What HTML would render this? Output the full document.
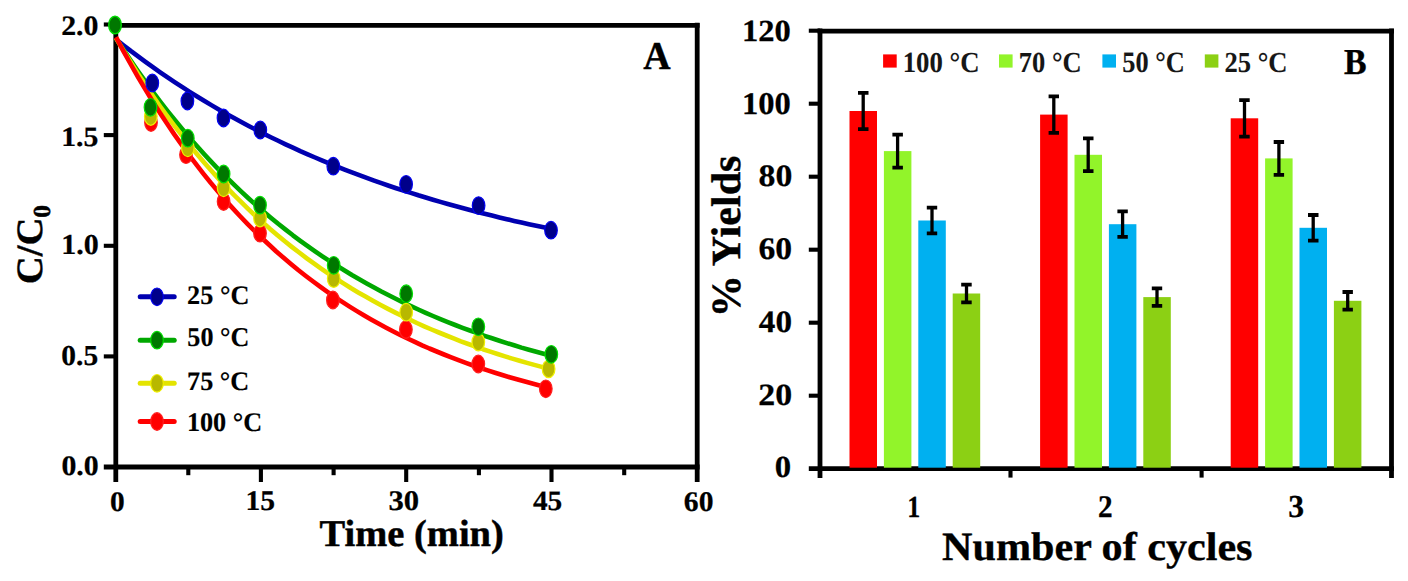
<!DOCTYPE html><html><head><meta charset="utf-8"><style>html,body{margin:0;padding:0;background:#fff;}svg{display:block;}text{font-family:"Liberation Serif",serif;font-weight:bold;fill:#000;stroke:#000;text-rendering:geometricPrecision;}</style></head><body>
<svg width="1408" height="581" viewBox="0 0 1408 581">
<rect width="1408" height="581" fill="#fff"/>
<g stroke="#000" stroke-width="4.8" fill="none" stroke-linecap="butt">
<path d="M103.8,467.0 H699.6"/>
<path d="M115.8,482 V22.7"/>
<path d="M113.4,25.4 H699.6"/>
<path d="M697.2,22.7 V482"/>
</g><g stroke="#000" stroke-width="4.1" fill="none">
<path d="M103.8,24.5 H116"/>
<path d="M103.8,135.1 H116"/>
<path d="M103.8,245.8 H116"/>
<path d="M103.8,356.4 H116"/>
<path d="M260.9,466 V482"/>
<path d="M406.2,466 V482"/>
<path d="M551.5,466 V482"/>
<path d="M188.3,466 V475.2"/>
<path d="M333.6,466 V475.2"/>
<path d="M478.9,466 V475.2"/>
<path d="M624.2,466 V475.2"/>
</g>
<path d="M116.0,39.4 L123.4,45.2 L130.7,50.9 L138.1,56.4 L145.5,61.9 L152.9,67.2 L160.2,72.3 L167.6,77.4 L175.0,82.3 L182.4,87.2 L189.7,91.9 L197.1,96.5 L204.5,101.0 L211.8,105.4 L219.2,109.7 L226.6,113.9 L234.0,118.1 L241.3,122.1 L248.7,126.0 L256.1,129.8 L263.5,133.6 L270.8,137.2 L278.2,140.8 L285.6,144.3 L292.9,147.7 L300.3,151.1 L307.7,154.3 L315.1,157.5 L322.4,160.6 L329.8,163.7 L337.2,166.7 L344.6,169.6 L351.9,172.4 L359.3,175.2 L366.7,177.9 L374.1,180.6 L381.4,183.2 L388.8,185.7 L396.2,188.2 L403.5,190.6 L410.9,192.9 L418.3,195.3 L425.7,197.5 L433.0,199.7 L440.4,201.9 L447.8,204.0 L455.2,206.0 L462.5,208.0 L469.9,210.0 L477.3,211.9 L484.6,213.8 L492.0,215.6 L499.4,217.4 L506.8,219.2 L514.1,220.9 L521.5,222.6 L528.9,224.2 L536.3,225.8 L543.6,227.3 L551.0,228.9" stroke="#0000b0" stroke-width="4.6" fill="none" stroke-linejoin="round"/>
<path d="M116.0,38.2 L123.4,49.6 L130.7,60.6 L138.1,71.3 L145.5,81.7 L152.9,91.8 L160.2,101.6 L167.6,111.1 L175.0,120.3 L182.4,129.2 L189.7,137.9 L197.1,146.3 L204.5,154.5 L211.8,162.4 L219.2,170.1 L226.6,177.5 L234.0,184.7 L241.3,191.7 L248.7,198.5 L256.1,205.1 L263.5,211.5 L270.8,217.7 L278.2,223.8 L285.6,229.6 L292.9,235.3 L300.3,240.8 L307.7,246.1 L315.1,251.3 L322.4,256.3 L329.8,261.2 L337.2,265.9 L344.6,270.5 L351.9,275.0 L359.3,279.3 L366.7,283.5 L374.1,287.5 L381.4,291.5 L388.8,295.3 L396.2,299.0 L403.5,302.6 L410.9,306.1 L418.3,309.5 L425.7,312.8 L433.0,316.0 L440.4,319.1 L447.8,322.1 L455.2,325.0 L462.5,327.8 L469.9,330.5 L477.3,333.2 L484.6,335.8 L492.0,338.3 L499.4,340.7 L506.8,343.1 L514.1,345.3 L521.5,347.6 L528.9,349.7 L536.3,351.8 L543.6,353.8 L551.0,355.8" stroke="#00a800" stroke-width="4.6" fill="none" stroke-linejoin="round"/>
<path d="M116.0,38.0 L123.3,50.3 L130.7,62.2 L138.0,73.8 L145.4,84.9 L152.7,95.8 L160.0,106.2 L167.4,116.4 L174.7,126.2 L182.1,135.7 L189.4,144.9 L196.7,153.8 L204.1,162.5 L211.4,170.8 L218.7,178.9 L226.1,186.8 L233.4,194.4 L240.8,201.7 L248.1,208.9 L255.4,215.8 L262.8,222.4 L270.1,228.9 L277.5,235.2 L284.8,241.3 L292.1,247.1 L299.5,252.8 L306.8,258.3 L314.2,263.7 L321.5,268.9 L328.8,273.9 L336.2,278.7 L343.5,283.4 L350.8,288.0 L358.2,292.4 L365.5,296.6 L372.9,300.8 L380.2,304.8 L387.5,308.6 L394.9,312.4 L402.2,316.0 L409.6,319.5 L416.9,323.0 L424.2,326.3 L431.6,329.5 L438.9,332.5 L446.3,335.5 L453.6,338.4 L460.9,341.3 L468.3,344.0 L475.6,346.6 L482.9,349.2 L490.3,351.6 L497.6,354.0 L505.0,356.4 L512.3,358.6 L519.6,360.8 L527.0,362.9 L534.3,364.9 L541.7,366.9 L549.0,368.8" stroke="#e4e400" stroke-width="4.6" fill="none" stroke-linejoin="round"/>
<path d="M116.0,37.1 L123.3,50.8 L130.6,64.0 L137.9,76.8 L145.2,89.1 L152.4,101.0 L159.7,112.5 L167.0,123.6 L174.3,134.4 L181.6,144.7 L188.9,154.8 L196.2,164.4 L203.5,173.8 L210.7,182.8 L218.0,191.5 L225.3,200.0 L232.6,208.1 L239.9,216.0 L247.2,223.6 L254.5,230.9 L261.8,238.0 L269.1,244.8 L276.3,251.5 L283.6,257.8 L290.9,264.0 L298.2,270.0 L305.5,275.7 L312.8,281.3 L320.1,286.7 L327.4,291.9 L334.6,296.9 L341.9,301.7 L349.2,306.4 L356.5,310.9 L363.8,315.3 L371.1,319.5 L378.4,323.6 L385.7,327.5 L392.9,331.3 L400.2,335.0 L407.5,338.5 L414.8,341.9 L422.1,345.3 L429.4,348.5 L436.7,351.5 L444.0,354.5 L451.3,357.4 L458.5,360.2 L465.8,362.9 L473.1,365.5 L480.4,368.0 L487.7,370.4 L495.0,372.7 L502.3,375.0 L509.6,377.2 L516.8,379.3 L524.1,381.3 L531.4,383.3 L538.7,385.2 L546.0,387.0" stroke="#ff0000" stroke-width="4.6" fill="none" stroke-linejoin="round"/>
<ellipse cx="151" cy="122.5" rx="6.3" ry="8.8" fill="#ff0000" stroke="#ff2020" stroke-width="1.2"/>
<ellipse cx="186" cy="154.7" rx="6.3" ry="8.8" fill="#ff0000" stroke="#ff2020" stroke-width="1.2"/>
<ellipse cx="223.6" cy="201.5" rx="6.3" ry="8.8" fill="#ff0000" stroke="#ff2020" stroke-width="1.2"/>
<ellipse cx="260" cy="233.2" rx="6.3" ry="8.8" fill="#ff0000" stroke="#ff2020" stroke-width="1.2"/>
<ellipse cx="332.9" cy="300" rx="6.3" ry="8.8" fill="#ff0000" stroke="#ff2020" stroke-width="1.2"/>
<ellipse cx="405.9" cy="329.5" rx="6.3" ry="8.8" fill="#ff0000" stroke="#ff2020" stroke-width="1.2"/>
<ellipse cx="478.3" cy="364" rx="6.3" ry="8.8" fill="#ff0000" stroke="#ff2020" stroke-width="1.2"/>
<ellipse cx="545.8" cy="388.8" rx="6.3" ry="8.8" fill="#ff0000" stroke="#ff2020" stroke-width="1.2"/>
<ellipse cx="150.8" cy="116.5" rx="6.3" ry="8.8" fill="#b8b800" stroke="#f0f000" stroke-width="1.2"/>
<ellipse cx="187.8" cy="147.8" rx="6.3" ry="8.8" fill="#b8b800" stroke="#f0f000" stroke-width="1.2"/>
<ellipse cx="223.6" cy="187.8" rx="6.3" ry="8.8" fill="#b8b800" stroke="#f0f000" stroke-width="1.2"/>
<ellipse cx="260" cy="218" rx="6.3" ry="8.8" fill="#b8b800" stroke="#f0f000" stroke-width="1.2"/>
<ellipse cx="333.7" cy="278.6" rx="6.3" ry="8.8" fill="#b8b800" stroke="#f0f000" stroke-width="1.2"/>
<ellipse cx="406.2" cy="312.2" rx="6.3" ry="8.8" fill="#b8b800" stroke="#f0f000" stroke-width="1.2"/>
<ellipse cx="478.3" cy="342" rx="6.3" ry="8.8" fill="#b8b800" stroke="#f0f000" stroke-width="1.2"/>
<ellipse cx="548.6" cy="368.9" rx="6.3" ry="8.8" fill="#b8b800" stroke="#f0f000" stroke-width="1.2"/>
<ellipse cx="150.5" cy="107.3" rx="6.3" ry="8.8" fill="#007800" stroke="#00e000" stroke-width="1.2"/>
<ellipse cx="187.8" cy="138.2" rx="6.3" ry="8.8" fill="#007800" stroke="#00e000" stroke-width="1.2"/>
<ellipse cx="223.6" cy="174" rx="6.3" ry="8.8" fill="#007800" stroke="#00e000" stroke-width="1.2"/>
<ellipse cx="260" cy="205.1" rx="6.3" ry="8.8" fill="#007800" stroke="#00e000" stroke-width="1.2"/>
<ellipse cx="333.7" cy="265.3" rx="6.3" ry="8.8" fill="#007800" stroke="#00e000" stroke-width="1.2"/>
<ellipse cx="406.2" cy="293.7" rx="6.3" ry="8.8" fill="#007800" stroke="#00e000" stroke-width="1.2"/>
<ellipse cx="478.3" cy="326.8" rx="6.3" ry="8.8" fill="#007800" stroke="#00e000" stroke-width="1.2"/>
<ellipse cx="551.3" cy="354.3" rx="6.3" ry="8.8" fill="#007800" stroke="#00e000" stroke-width="1.2"/>
<ellipse cx="152.3" cy="83" rx="6.3" ry="8.8" fill="#00008a" stroke="#0000f0" stroke-width="1.2"/>
<ellipse cx="187.4" cy="101" rx="6.3" ry="8.8" fill="#00008a" stroke="#0000f0" stroke-width="1.2"/>
<ellipse cx="223.5" cy="118" rx="6.3" ry="8.8" fill="#00008a" stroke="#0000f0" stroke-width="1.2"/>
<ellipse cx="260.3" cy="130" rx="6.3" ry="8.8" fill="#00008a" stroke="#0000f0" stroke-width="1.2"/>
<ellipse cx="333.3" cy="166.2" rx="6.3" ry="8.8" fill="#00008a" stroke="#0000f0" stroke-width="1.2"/>
<ellipse cx="406.1" cy="184.3" rx="6.3" ry="8.8" fill="#00008a" stroke="#0000f0" stroke-width="1.2"/>
<ellipse cx="478.6" cy="205.6" rx="6.3" ry="8.8" fill="#00008a" stroke="#0000f0" stroke-width="1.2"/>
<ellipse cx="551" cy="230.2" rx="6.3" ry="8.8" fill="#00008a" stroke="#0000f0" stroke-width="1.2"/>
<ellipse cx="115" cy="25" rx="6.3" ry="8.8" fill="#007800" stroke="#00dc00" stroke-width="1.4"/>
<path d="M140.2,296.8 H174.2" stroke="#0000b0" stroke-width="5" stroke-linecap="round"/>
<ellipse cx="157" cy="296.8" rx="6.3" ry="8.8" fill="#00008a" stroke="#0000f0" stroke-width="1.2"/>
<path d="M140.2,340.2 H174.2" stroke="#00a800" stroke-width="5" stroke-linecap="round"/>
<ellipse cx="157" cy="340.2" rx="6.3" ry="8.8" fill="#007800" stroke="#00e000" stroke-width="1.2"/>
<path d="M140.2,383.3 H174.2" stroke="#e4e400" stroke-width="5" stroke-linecap="round"/>
<ellipse cx="157" cy="383.3" rx="6.3" ry="8.8" fill="#b8b800" stroke="#f0f000" stroke-width="1.2"/>
<path d="M140.2,421.5 H174.2" stroke="#ff0000" stroke-width="5" stroke-linecap="round"/>
<ellipse cx="157" cy="421.5" rx="6.3" ry="8.8" fill="#ff0000" stroke="#ff2020" stroke-width="1.2"/>
<g stroke="#000" stroke-width="4.8" fill="none">
<path d="M808.8,468.7 H1394"/>
<path d="M820,478 V28.6"/>
<path d="M817.6,31.1 H1394"/>
<path d="M1391.5,28.6 V478"/>
</g><g stroke="#000" stroke-width="4.1" fill="none">
<path d="M808.8,395.7 H820"/>
<path d="M808.8,322.7 H820"/>
<path d="M808.8,249.7 H820"/>
<path d="M808.8,176.7 H820"/>
<path d="M808.8,103.7 H820"/>
<path d="M808.8,30.7 H820"/>
<path d="M1010.5,468 V477.6"/>
<path d="M1201.6,468 V477.6"/>
</g>
<rect x="849.5" y="111.0" width="27.5" height="356.7" fill="#ff0000"/>
<rect x="883.9" y="151.1" width="27.5" height="316.6" fill="#92f42a"/>
<rect x="918.3" y="220.5" width="27.5" height="247.2" fill="#00b0f0"/>
<rect x="952.7" y="293.5" width="27.5" height="174.2" fill="#8cd014"/>
<rect x="1040.1" y="114.6" width="27.5" height="353.1" fill="#ff0000"/>
<rect x="1074.5" y="154.8" width="27.5" height="312.9" fill="#92f42a"/>
<rect x="1108.9" y="224.2" width="27.5" height="243.5" fill="#00b0f0"/>
<rect x="1143.3" y="297.1" width="27.5" height="170.6" fill="#8cd014"/>
<rect x="1230.7" y="118.3" width="27.5" height="349.4" fill="#ff0000"/>
<rect x="1265.1" y="158.4" width="27.5" height="309.2" fill="#92f42a"/>
<rect x="1299.5" y="227.8" width="27.5" height="239.9" fill="#00b0f0"/>
<rect x="1333.9" y="300.8" width="27.5" height="166.9" fill="#8cd014"/>
<path d="M863.2,92.8 V129.2" stroke="#000" stroke-width="3.3"/><path d="M858.0,92.8 H868.5 M858.0,129.2 H868.5" stroke="#000" stroke-width="3.8"/>
<path d="M897.6,134.7 V167.6" stroke="#000" stroke-width="3.3"/><path d="M892.4,134.7 H902.9 M892.4,167.6 H902.9" stroke="#000" stroke-width="3.8"/>
<path d="M932.0,207.7 V233.3" stroke="#000" stroke-width="3.3"/><path d="M926.8,207.7 H937.2 M926.8,233.3 H937.2" stroke="#000" stroke-width="3.8"/>
<path d="M966.5,284.7 V302.3" stroke="#000" stroke-width="3.3"/><path d="M961.2,284.7 H971.7 M961.2,302.3 H971.7" stroke="#000" stroke-width="3.8"/>
<path d="M1053.8,96.4 V132.9" stroke="#000" stroke-width="3.3"/><path d="M1048.6,96.4 H1059.0 M1048.6,132.9 H1059.0" stroke="#000" stroke-width="3.8"/>
<path d="M1088.2,138.4 V171.2" stroke="#000" stroke-width="3.3"/><path d="M1083.0,138.4 H1093.5 M1083.0,171.2 H1093.5" stroke="#000" stroke-width="3.8"/>
<path d="M1122.6,211.4 V236.9" stroke="#000" stroke-width="3.3"/><path d="M1117.4,211.4 H1127.8 M1117.4,236.9 H1127.8" stroke="#000" stroke-width="3.8"/>
<path d="M1157.0,288.4 V305.9" stroke="#000" stroke-width="3.3"/><path d="M1151.8,288.4 H1162.2 M1151.8,305.9 H1162.2" stroke="#000" stroke-width="3.8"/>
<path d="M1244.5,100.1 V136.6" stroke="#000" stroke-width="3.3"/><path d="M1239.2,100.1 H1249.7 M1239.2,136.6 H1249.7" stroke="#000" stroke-width="3.8"/>
<path d="M1278.9,142.0 V174.9" stroke="#000" stroke-width="3.3"/><path d="M1273.7,142.0 H1284.1 M1273.7,174.9 H1284.1" stroke="#000" stroke-width="3.8"/>
<path d="M1313.2,215.0 V240.6" stroke="#000" stroke-width="3.3"/><path d="M1308.0,215.0 H1318.5 M1308.0,240.6 H1318.5" stroke="#000" stroke-width="3.8"/>
<path d="M1347.7,292.0 V309.6" stroke="#000" stroke-width="3.3"/><path d="M1342.5,292.0 H1352.9 M1342.5,309.6 H1352.9" stroke="#000" stroke-width="3.8"/>
<rect x="883.1" y="54.4" width="13.6" height="13.2" fill="#ff0000"/>
<rect x="999" y="54.4" width="13.6" height="13.2" fill="#92f42a"/>
<rect x="1102.4" y="54.4" width="13.6" height="13.2" fill="#00b0f0"/>
<rect x="1204.8" y="54.4" width="13.6" height="13.2" fill="#8cd014"/>
<g transform="matrix(1.02885,0,0,0.96955,-1.849,1.912)"><text x="97.50" y="34.50" font-size="29" text-anchor="end" stroke-width="0.25">2.0</text></g>
<g transform="matrix(1.02555,0,0,0.96436,-1.571,5.614)"><text x="97.50" y="145.12" font-size="29" text-anchor="end" stroke-width="0.25">1.5</text></g>
<g transform="matrix(1.03399,0,0,0.99661,-2.103,-1.145)"><text x="97.50" y="255.75" font-size="29" text-anchor="end" stroke-width="0.25">1.0</text></g>
<g transform="matrix(1.01603,0,0,0.99599,-0.949,0.214)"><text x="97.50" y="366.38" font-size="29" text-anchor="end" stroke-width="0.25">0.5</text></g>
<g transform="matrix(1.02826,0,0,0.97615,-1.557,9.495)"><text x="97.50" y="477.00" font-size="29" text-anchor="end" stroke-width="0.25">0.0</text></g>
<g transform="matrix(1.01353,0,0,0.97544,0.074,12.286)"><text x="115.60" y="511.00" font-size="29" text-anchor="middle" stroke-width="0.25">0</text></g>
<g transform="matrix(1.01843,0,0,0.98465,-5.332,7.107)"><text x="260.90" y="511.00" font-size="29" text-anchor="middle" stroke-width="0.25">15</text></g>
<g transform="matrix(1.05756,0,0,0.98089,-25.739,9.025)"><text x="406.21" y="511.00" font-size="29" text-anchor="middle" stroke-width="0.25">30</text></g>
<g transform="matrix(1.01136,0,0,0.96303,-10.191,17.688)"><text x="551.51" y="511.00" font-size="29" text-anchor="middle" stroke-width="0.25">45</text></g>
<g transform="matrix(1.02147,0,0,0.98380,-13.133,8.133)"><text x="696.82" y="511.00" font-size="29" text-anchor="middle" stroke-width="0.25">60</text></g>
<g transform="matrix(0.98684,0,0,0.97130,6.131,15.762)"><text x="411.00" y="546.00" font-size="39" text-anchor="middle" stroke-width="0.45">Time (min)</text></g>
<g transform="matrix(0.97806,0,0,1.01653,-0.477,-2.431)"><text transform="translate(43,243) rotate(-90)" font-size="38" text-anchor="middle" stroke-width="0.45">C/C<tspan font-size="25" dy="8.6">0</tspan></text></g>
<g transform="matrix(0.94808,0,0,0.98456,33.970,0.491)"><text x="657.00" y="70.00" font-size="40" text-anchor="middle" stroke-width="0.4">A</text></g>
<g transform="matrix(1.05010,0,0,1.07265,-10.350,-22.102)"><text x="188.00" y="304.30" font-size="25" text-anchor="start" stroke-width="0.15">25 °C</text></g>
<g transform="matrix(1.04332,0,0,1.08070,-8.795,-28.785)"><text x="188.00" y="347.00" font-size="25" text-anchor="start" stroke-width="0.15">50 °C</text></g>
<g transform="matrix(1.04888,0,0,1.07151,-10.172,-27.940)"><text x="188.00" y="390.30" font-size="25" text-anchor="start" stroke-width="0.15">75 °C</text></g>
<g transform="matrix(1.04979,0,0,1.07305,-10.483,-31.736)"><text x="188.00" y="430.90" font-size="25" text-anchor="start" stroke-width="0.15">100 °C</text></g>
<g transform="matrix(1.08406,0,0,1.02239,-66.764,-1.030)"><text x="791.00" y="40.70" font-size="30" text-anchor="end" stroke-width="0.25">120</text></g>
<g transform="matrix(1.08476,0,0,1.05339,-67.275,-5.906)"><text x="791.00" y="113.70" font-size="30" text-anchor="end" stroke-width="0.25">100</text></g>
<g transform="matrix(1.12601,0,0,1.03617,-98.387,-7.497)"><text x="791.00" y="186.70" font-size="30" text-anchor="end" stroke-width="0.25">80</text></g>
<g transform="matrix(1.12076,0,0,1.04787,-94.347,-12.621)"><text x="791.00" y="259.70" font-size="30" text-anchor="end" stroke-width="0.25">60</text></g>
<g transform="matrix(1.10592,0,0,1.04043,-82.756,-14.429)"><text x="791.00" y="332.70" font-size="30" text-anchor="end" stroke-width="0.25">40</text></g>
<g transform="matrix(1.12819,0,0,1.03076,-100.245,-12.744)"><text x="791.00" y="405.70" font-size="30" text-anchor="end" stroke-width="0.25">20</text></g>
<g transform="matrix(1.09107,0,0,1.02752,-71.909,-14.426)"><text x="791.00" y="478.70" font-size="30" text-anchor="end" stroke-width="0.25">0</text></g>
<g transform="matrix(0.86856,0,0,1.01901,119.682,-9.835)"><text x="914.15" y="517.00" font-size="30" text-anchor="middle" stroke-width="0.25">1</text></g>
<g transform="matrix(0.97412,0,0,1.05075,28.487,-26.853)"><text x="1105.50" y="517.40" font-size="30" text-anchor="middle" stroke-width="0.25">2</text></g>
<g transform="matrix(1.05353,0,0,1.06619,-69.495,-34.669)"><text x="1296.20" y="517.70" font-size="30" text-anchor="middle" stroke-width="0.25">3</text></g>
<g transform="matrix(0.93623,0,0,0.89089,70.239,59.651)"><text x="1097.00" y="562.00" font-size="45" text-anchor="middle" stroke-width="0.4">Number of cycles</text></g>
<g transform="matrix(0.98504,0,0,1.00264,10.485,0.828)"><text transform="translate(741,235) rotate(-90)" font-size="42" text-anchor="middle" stroke-width="0.45">% Yields</text></g>
<g transform="matrix(0.93833,0,0,1.01415,83.814,-1.463)"><text x="1355.00" y="74.60" font-size="36" text-anchor="middle" stroke-width="0.4">B</text></g>
<g transform="matrix(0.95496,0,0,1.03518,38.535,-3.010)"><text x="904.90" y="72.40" font-size="28" text-anchor="start" style="fill:#161616;stroke:#161616" stroke-width="0.1">100 °C</text></g>
<g transform="matrix(0.94574,0,0,1.03767,53.853,-3.169)"><text x="1020.30" y="72.40" font-size="28" text-anchor="start" style="fill:#161616;stroke:#161616" stroke-width="0.1">70 °C</text></g>
<g transform="matrix(0.94002,0,0,1.05502,66.364,-4.453)"><text x="1123.30" y="72.40" font-size="28" text-anchor="start" style="fill:#161616;stroke:#161616" stroke-width="0.1">50 °C</text></g>
<g transform="matrix(0.94937,0,0,1.03123,60.883,-2.717)"><text x="1225.60" y="72.40" font-size="28" text-anchor="start" style="fill:#161616;stroke:#161616" stroke-width="0.1">25 °C</text></g>
</svg></body></html>
